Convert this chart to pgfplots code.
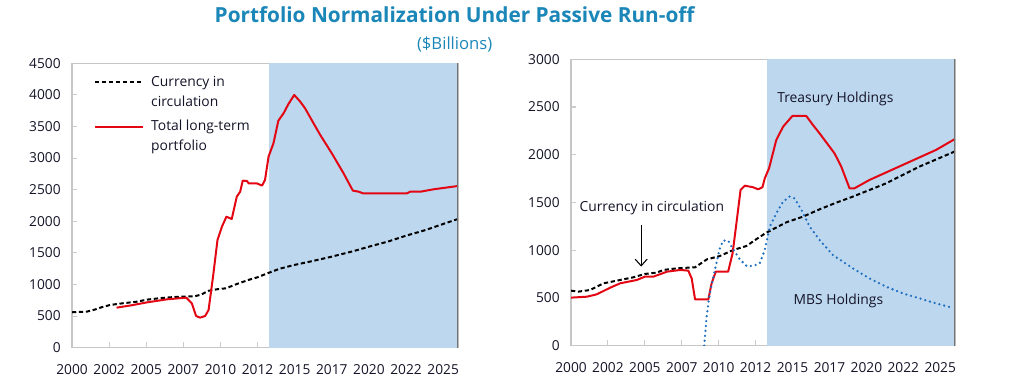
\documentclass[border=0pt]{standalone}
\usepackage{fontspec}
\setmainfont{Open Sans}
\usepackage{pgfplots}
\pgfplotsset{compat=1.18}
\usetikzlibrary{arrows.meta}
\definecolor{shade}{HTML}{BDD7EE}
\definecolor{myred}{HTML}{E30613}
\definecolor{myblue}{HTML}{1F6FC0}
\definecolor{titleblue}{HTML}{1B86B8}
\definecolor{txt}{HTML}{141428}

\tikzset{
  curr/.style={black, line width=1.5pt, dash pattern=on 3.2pt off 2pt},
  redl/.style={myred, line width=1.5pt, line join=round},
  mbs/.style={myblue, line width=1.9pt, line cap=round, dash pattern=on 0pt off 3.7pt},
}
\pgfplotsset{
  mystyle/.style={
    scale only axis,
    xmin=2000, xmax=2026, ymin=0,
    xtick={2000,2002.5,2005,2007.5,2010,2012.5,2015,2017.5,2020,2022.5,2025},
    xticklabels={2000,2002,2005,2007,2010,2012,2015,2017,2020,2022,2025},
    axis line style={draw=gray!45, line width=1.1pt},
    tick style={draw=gray!40, line width=0.8pt},
    major tick length=4pt,
    tick align=inside,
    xtick pos=bottom, ytick pos=left,
    tick label style={font=\fontsize{10.3}{12}\selectfont, text=txt},
    /pgf/number format/assume math mode=true,
    /pgf/number format/1000 sep={},
    xticklabel style={yshift=-9pt},
    yticklabel style={xshift=-5pt},
    clip=true,
  },
}

\begin{document}
\begin{tikzpicture}
\useasboundingbox (0pt,0pt) rectangle (759pt,293.25pt);

\node[font=\bfseries\fontsize{15.6}{18}\selectfont, text=titleblue] at (341pt,282.3pt) {Portfolio Normalization Under Passive Run-off};
\node[font=\fontsize{12.5}{15}\selectfont, text=titleblue] at (341pt,260.25pt) {(\$Billions)};

% Left panel
\begin{axis}[mystyle, at={(54pt,32.5pt)}, anchor=south west, width=289.5pt, height=213.3pt,
  ymax=4500, ytick={0,500,...,4500}]
\addplot[fill=shade, draw=none] coordinates {(2013.25,0) (2026,0) (2026,4500) (2013.25,4500)} -- cycle;
\addplot[curr] coordinates {
(2000.0,560) (2001.0,570) (2001.5,600) (2002.0,640) (2002.56,675) (2003.5,705) (2004.3,725) (2005.06,760)
(2006,785) (2006.8,800) (2007.5,807) (2008.3,815) (2008.7,840) (2009.2,900) (2009.8,925) (2010.4,940)
(2010.9,990) (2011.5,1040) (2012,1080) (2012.45,1110) (2013.26,1185) (2014,1250) (2015,1310) (2016,1360)
(2017.5,1440) (2019,1530) (2020,1598) (2021.3,1680) (2022.5,1772) (2023.8,1860) (2025,1957) (2026,2036)};
\addplot[redl] coordinates {
(2003.0,633) (2004.0,670) (2005.06,717) (2006.4,765) (2007.7,791) (2008.07,702) (2008.36,501) (2008.63,475)
(2008.97,501) (2009.2,596) (2009.5,1124) (2009.8,1704) (2010.1,1915) (2010.4,2073) (2010.76,2036)
(2011.1,2390) (2011.33,2469) (2011.5,2643) (2011.78,2637) (2011.9,2600) (2012.45,2600) (2012.8,2564)
(2013.0,2653) (2013.24,3023) (2013.57,3234) (2013.9,3592) (2014.25,3708) (2014.58,3856) (2014.97,3998)
(2015.37,3893) (2015.7,3787) (2016.27,3550) (2016.72,3366) (2017.5,3075) (2018.29,2759) (2018.92,2484)
(2019.3,2469) (2019.6,2442) (2022.56,2442) (2022.79,2469) (2023.5,2469) (2024.36,2506) (2026,2558)};
\draw[gray!110, line width=1.3pt] (rel axis cs:1,0) -- (rel axis cs:1,1);
% legend
\draw[curr] (rel axis cs:0.06,0.934) -- (rel axis cs:0.184,0.934);
\draw[redl] (rel axis cs:0.06,0.776) -- (rel axis cs:0.184,0.776);
\node[anchor=west, align=left, font=\fontsize{10.4}{15}\selectfont, text=txt] at (rel axis cs:0.193,0.90) {Currency in\\circulation};
\node[anchor=west, align=left, font=\fontsize{10.4}{15}\selectfont, text=txt] at (rel axis cs:0.193,0.742) {Total long-term\\portfolio};
\end{axis}

% Right panel
\begin{axis}[mystyle, at={(428.25pt,34pt)}, anchor=south west, width=288pt, height=214.8pt,
  ymax=3000, ytick={0,500,...,3000}]
\addplot[fill=shade, draw=none] coordinates {(2013.25,0) (2026,0) (2026,3000) (2013.25,3000)} -- cycle;
\addplot[curr] coordinates {
(2000,576) (2000.5,566) (2001.3,583) (2002.2,653) (2003.33,688) (2004.2,715) (2005,751) (2005.8,765) (2006.26,793)
(2007.16,810) (2008.4,821) (2009.2,904) (2010.08,939) (2010.98,1002) (2011.88,1044) (2012.56,1117)
(2013.23,1184) (2014.58,1292) (2015.7,1351) (2016.83,1428) (2017.96,1498) (2019.08,1561) (2021.33,1700)
(2023.58,1875) (2026,2035)};
\addplot[redl] coordinates {
(2000,503) (2001.08,513) (2001.75,538) (2002.66,608) (2003.33,653) (2004.46,688) (2005,723) (2005.58,723)
(2006.5,775) (2007.4,793) (2007.94,786) (2008.17,705) (2008.4,485) (2009.3,485) (2009.52,653) (2009.8,775)
(2010.64,775) (2010.94,967) (2011.2,1282) (2011.48,1631) (2011.77,1676) (2012.33,1659) (2012.67,1638)
(2012.96,1659) (2013.12,1753) (2013.41,1858) (2013.9,2155) (2014.36,2294) (2014.99,2406) (2015.93,2406)
(2016.38,2312) (2016.83,2224) (2017.84,2015) (2018.3,1875) (2018.86,1648) (2019.19,1648) (2020.2,1735)
(2022.46,1893) (2024.71,2050) (2026,2165)};
\addplot[mbs] coordinates {
(2009.02,0) (2009.18,304) (2009.4,548) (2009.74,793) (2010.04,1002) (2010.3,1100) (2010.64,1100)
(2010.98,1009) (2011.43,904) (2011.88,835) (2012.33,835) (2012.78,863) (2013.12,1002) (2013.46,1247)
(2013.9,1386) (2014.36,1509) (2014.8,1561) (2015.14,1543) (2015.6,1421) (2016.16,1247) (2016.83,1107)
(2017.73,950) (2019.08,810) (2020.2,705) (2021.33,618) (2022.46,548) (2023.58,496) (2024.71,443) (2025.72,402)};
\draw[gray!110, line width=1.3pt] (rel axis cs:1,0) -- (rel axis cs:1,1);
\node[font=\fontsize{10.4}{12}\selectfont, text=txt] at (axis cs:2017.9,2584) {Treasury Holdings};
\node[font=\fontsize{10.4}{12}\selectfont, text=txt] at (axis cs:2018.1,468) {MBS Holdings};
\node[font=\fontsize{10.4}{12}\selectfont, text=txt] at (axis cs:2005.47,1442) {Currency in circulation};
\draw[-{Straight Barb[length=5pt,width=9pt]}, line width=0.8pt] (axis cs:2004.75,1264) -- (axis cs:2004.75,828);
\end{axis}
\end{tikzpicture}
\end{document}
